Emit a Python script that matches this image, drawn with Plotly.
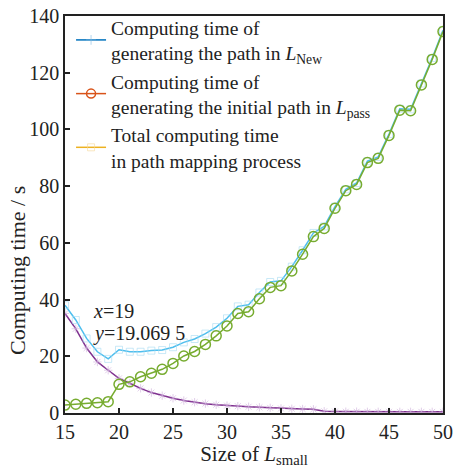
import plotly.graph_objects as go

# Size of L_small
sizes = list(range(15, 51))

# Computing time of generating the path in L_New (s)
t_new = [35.1, 29.7, 22.9, 18.0, 15.07, 12.2, 10.5, 8.7, 7.2, 6.1,
         5.2, 4.4, 3.8, 3.3, 2.9, 2.6, 2.4, 2.2, 2.0, 1.8,
         1.6, 1.5, 1.4, 1.3, 0.6, 0.5, 0.45, 0.45, 0.4, 0.4,
         0.4, 0.4, 0.4, 0.4, 0.4, 0.4]

# Computing time of generating the initial path in L_pass (s)
t_pass = [2.8, 3.1, 3.4, 3.6, 4.0, 10.1, 11.0, 12.8, 14.0, 15.4,
          17.5, 20.1, 21.7, 24.2, 27.2, 30.7, 35.1, 35.7, 40.3, 44.3,
          44.9, 50.1, 56.0, 62.2, 65.1, 72.2, 78.4, 80.6, 88.3, 89.8,
          97.9, 106.8, 106.6, 115.7, 124.7, 134.5]

# Total computing time in path mapping process (s)
t_total = [38.0, 32.8, 26.3, 21.6, 19.0695, 22.3, 21.6, 21.6, 22.0, 22.2,
           23.2, 24.9, 26.1, 28.0, 30.3, 33.4, 37.6, 38.2, 42.5, 46.2,
           46.6, 51.6, 57.4, 63.5, 65.8, 72.8, 78.9, 81.1, 88.8, 90.3,
           98.4, 107.3, 107.1, 116.2, 125.2, 135.0]

legend_names = [
    "Computing time of<br>generating the path in <i>L</i><sub>New</sub>",
    "Computing time of<br>generating the initial path in <i>L</i><sub>pass</sub>",
    "Total computing time<br>in path mapping process",
]

FONT = "Times New Roman, Liberation Serif, DejaVu Serif, serif"

fig = go.Figure()

# plotted series
fig.add_trace(go.Scatter(
    x=sizes, y=t_new, mode="lines+markers", showlegend=False,
    line=dict(color="#7E2F8E", width=1.5),
    marker=dict(symbol="asterisk-open", size=7, color="rgba(200,165,215,0.55)",
                line=dict(width=1)),
))
fig.add_trace(go.Scatter(
    x=sizes, y=t_total, mode="lines+markers", showlegend=False,
    line=dict(color="#4DBEEE", width=1.5),
    marker=dict(symbol="square-open", size=7, color="rgba(165,218,242,0.6)",
                line=dict(width=1)),
))
fig.add_trace(go.Scatter(
    x=sizes, y=t_pass, mode="lines+markers", showlegend=False,
    line=dict(color="#77AC30", width=1.5),
    marker=dict(symbol="circle-open", size=10, color="#77AC30",
                line=dict(width=1.5)),
))

# legend entries
fig.add_trace(go.Scatter(
    x=[None], y=[None], mode="lines+markers", name=legend_names[0],
    line=dict(color="#0072BD", width=1.5),
    marker=dict(symbol="cross-thin-open", size=7, color="rgba(130,185,225,0.6)",
                line=dict(width=1)),
))
fig.add_trace(go.Scatter(
    x=[None], y=[None], mode="lines+markers", name=legend_names[1],
    line=dict(color="#D95319", width=1.5),
    marker=dict(symbol="circle-open", size=9, color="#D95319",
                line=dict(width=1.5)),
))
fig.add_trace(go.Scatter(
    x=[None], y=[None], mode="lines+markers", name=legend_names[2],
    line=dict(color="#EDB120", width=1.5),
    marker=dict(symbol="square-open", size=7, color="rgba(245,215,150,0.6)",
                line=dict(width=1)),
))

# data tip text
fig.add_annotation(x=17.45, y=36.0, xref="x", yref="y", text="<i>x</i>=19",
                   showarrow=False, xanchor="left", yanchor="middle",
                   font=dict(family=FONT, size=20, color="#222"))
fig.add_annotation(x=17.45, y=28.2, xref="x", yref="y",
                   text="<i>y</i>=19.069 5",
                   showarrow=False, xanchor="left", yanchor="middle",
                   font=dict(family=FONT, size=20, color="#222"))

# y-axis title, set slightly below the middle of the axis
fig.add_annotation(x=-0.124, y=0.358, xref="paper", yref="paper",
                   text="Computing time / s", textangle=-90,
                   showarrow=False, xanchor="center", yanchor="middle",
                   font=dict(family=FONT, size=22, color="#222"))

axis_common = dict(
    showline=True, linecolor="#222", linewidth=1.5, mirror=True,
    ticks="inside", ticklen=5, tickwidth=1.5, tickcolor="#222",
    showgrid=False, zeroline=False,
    tickfont=dict(family=FONT, size=20, color="#222"),
)

fig.update_layout(
    width=457, height=468,
    margin=dict(l=65, r=14, t=16, b=55, autoexpand=False),
    paper_bgcolor="white", plot_bgcolor="white",
    font=dict(family=FONT, color="#222"),
    xaxis=dict(range=[15, 50], dtick=5, **axis_common,
               title=dict(text="Size of <i>L</i><sub>small</sub>",
                          font=dict(family=FONT, size=21), standoff=7)),
    yaxis=dict(range=[0, 140], dtick=20, **axis_common),
    legend=dict(x=0.016, y=1.02, xanchor="left", yanchor="top",
                bgcolor="rgba(0,0,0,0)", borderwidth=0,
                font=dict(family=FONT, size=19.5, color="#222"),
                valign="middle", tracegroupgap=0),
)

fig.write_html("out.html")
